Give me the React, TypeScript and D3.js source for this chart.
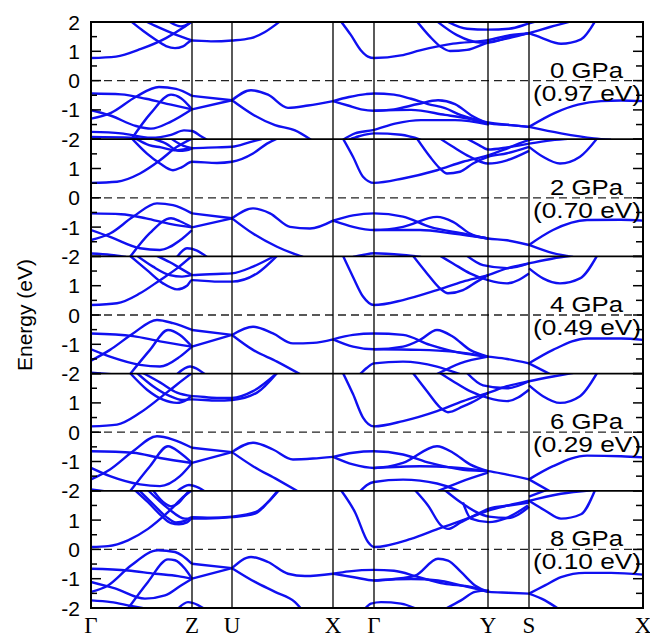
import React from "react";
import * as d3 from "d3";

type P = [number, number];

// k-path (distance units) of high-symmetry points
const kTicks = [0, 101, 141, 242, 283, 397, 438, 552];
const kLabels = ["Γ", "Z", "U", "X", "Γ", "Y", "S", "X"];
const pressureLabels = ["0 GPa", "2 GPa", "4 GPa", "6 GPa", "8 GPa"];
const gapLabels = ["(0.97 eV)", "(0.70 eV)", "(0.49 eV)", "(0.29 eV)", "(0.10 eV)"];
const yTicks = [-2, -1, 0, 1, 2];
const yMinor = [-1.5, -0.5, 0.5, 1.5];

// ---------- 0 GPa ----------
const cond0: P[][] = [
  [[0, 0.77], [25, 0.82], [50, 1.08], [75, 1.45], [92, 1.8], [101, 2.02]],
  [[40, 2.02], [52, 1.7], [64, 1.41], [75, 1.18], [84, 1.11], [92, 1.17], [101, 1.37], [120, 1.34], [141, 1.37], [160, 1.45], [174, 1.66], [189, 2.02]],
  [[55, 2.02], [70, 1.78], [86, 1.55], [101, 1.37]],
  [[78, 2.02], [90, 1.85], [101, 2.02]],
  [[250, 2.02], [260, 1.55], [270, 1.03], [277, 0.82], [283, 0.77], [310, 0.86], [329, 1.03], [362, 1.26], [397, 1.38], [419, 1.55], [438, 1.62], [459, 1.83], [480, 2.02]],
  [[326, 2.02], [339, 1.5], [350, 1.15], [359, 1.01], [376, 1.05], [397, 1.3], [418, 1.45], [438, 1.62]],
  [[346, 2.02], [366, 1.55], [389, 1.3], [397, 1.3], [418, 1.48], [438, 1.62]],
  [[356, 2.02], [376, 1.77], [397, 1.74], [418, 1.77], [438, 1.95], [445, 2.02]],
  [[438, 1.62], [450, 1.47], [470, 1.26], [490, 1.41], [504, 2.02]],
];
const val0: P[][] = [
  [[0, -1.3], [20, -1.1], [45, -0.55], [68, -0.22], [85, -0.28], [101, -0.52]],
  [[0, -0.44], [30, -0.47], [55, -0.62], [80, -0.82], [101, -0.98]],
  [[40, -2.02], [60, -1.1], [80, -0.48], [90, -0.6], [101, -0.98]],
  [[0, -1.01], [20, -1.2], [45, -1.55], [60, -1.64], [80, -1.4], [101, -0.98]],
  [[0, -1.75], [30, -1.8], [60, -1.95], [80, -1.85], [93, -1.7], [101, -1.72], [110, -1.9], [116, -2.02]],
  [[0, -1.92], [40, -1.95], [60, -2.02]],
  [[101, -0.52], [141, -0.67]],
  [[101, -0.98], [141, -0.67]],
  [[141, -0.67], [160, -0.33], [177, -0.48], [197, -0.93], [217, -0.85], [242, -0.7]],
  [[141, -0.67], [163, -1.18], [184, -1.52], [204, -1.7], [220, -2.02]],
  [[242, -0.7], [258, -0.56], [275, -0.46], [283, -0.44], [303, -0.48], [320, -0.62], [337, -0.8], [354, -0.94], [370, -1.18], [387, -1.35], [397, -1.43], [420, -1.52], [438, -1.58]],
  [[242, -0.7], [257, -0.85], [270, -0.98], [283, -1.03], [303, -0.98], [327, -0.8], [347, -0.67], [364, -0.8], [380, -1.18], [397, -1.46]],
  [[283, -1.03], [320, -1.0], [354, -1.17], [377, -1.3], [397, -1.46], [420, -1.52], [438, -1.58]],
  [[252, -2.02], [264, -1.8], [282, -1.69], [304, -1.47], [330, -1.35], [364, -1.35], [398, -1.5]],
  [[258, -2.02], [268, -1.9], [283, -1.8], [310, -1.85], [330, -2.02]],
  [[438, -1.58], [464, -1.1], [487, -0.82], [510, -0.7], [530, -0.68], [552, -0.7]],
  [[438, -1.58], [470, -1.8], [503, -1.97], [520, -2.02]],
];

// ---------- 2 GPa ----------
const cond2: P[][] = [
  [[0, 0.51], [26, 0.55], [49, 0.83], [69, 1.28], [86, 1.74], [101, 2.02]],
  [[41, 2.02], [56, 1.51], [69, 1.17], [82, 0.94], [91, 1.05], [101, 1.23], [126, 1.19], [141, 1.23], [162, 1.51], [176, 1.85], [186, 2.02]],
  [[45, 2.02], [58, 1.8], [70, 1.72], [85, 1.62], [101, 1.69], [126, 1.72], [141, 1.74], [159, 1.9], [172, 2.02]],
  [[62, 2.02], [75, 1.85], [88, 1.6], [95, 1.62], [101, 1.69]],
  [[80, 2.02], [92, 1.78], [101, 1.69]],
  [[252, 2.02], [262, 1.4], [272, 0.72], [283, 0.51], [312, 0.66], [346, 0.94], [372, 1.23], [397, 1.45], [416, 1.68], [438, 1.97], [445, 2.02]],
  [[326, 2.02], [339, 1.4], [349, 1.0], [356, 0.83], [369, 0.89], [382, 1.17], [397, 1.4], [416, 1.52], [438, 1.74]],
  [[349, 2.02], [362, 1.74], [379, 1.4], [397, 1.17], [416, 1.28], [438, 1.6]],
  [[376, 2.02], [388, 1.8], [397, 1.65], [416, 1.72], [438, 1.85]],
  [[438, 1.74], [452, 1.4], [469, 1.17], [489, 1.4], [506, 2.02]],
  [[438, 1.85], [460, 1.96], [480, 2.02]],
];
const val2: P[][] = [
  [[0, -1.44], [19, -1.22], [42, -0.65], [66, -0.19], [82, -0.25], [101, -0.53]],
  [[0, -0.53], [30, -0.56], [55, -0.7], [80, -0.9], [101, -1.01]],
  [[39, -2.02], [59, -1.2], [80, -0.7], [89, -0.8], [101, -1.01]],
  [[0, -1.1], [19, -1.33], [49, -1.72], [69, -1.78], [89, -1.45], [101, -1.1]],
  [[0, -1.9], [20, -1.95], [35, -2.02]],
  [[86, -2.02], [96, -1.72], [106, -1.8], [116, -2.02]],
  [[101, -0.53], [141, -0.7]],
  [[101, -1.01], [141, -0.7]],
  [[141, -0.7], [162, -0.36], [179, -0.53], [199, -0.99], [219, -1.05], [242, -0.78]],
  [[141, -0.7], [162, -1.22], [186, -1.67], [202, -1.9], [212, -2.02]],
  [[242, -0.78], [262, -0.6], [283, -0.53], [312, -0.64], [339, -0.99], [372, -1.22], [397, -1.39], [416, -1.45], [438, -1.61]],
  [[242, -0.78], [262, -0.99], [283, -1.1], [312, -0.99], [346, -0.65], [362, -0.82], [379, -1.22], [397, -1.39]],
  [[283, -1.1], [329, -1.1], [362, -1.22], [397, -1.39]],
  [[262, -2.02], [272, -1.95], [283, -1.89], [312, -1.95], [330, -2.02]],
  [[438, -1.61], [462, -1.1], [496, -0.76], [530, -0.75], [552, -0.78]],
  [[438, -1.61], [462, -1.89], [482, -2.02]],
];

// ---------- 4 GPa ----------
const cond4: P[][] = [
  [[0, 0.34], [26, 0.4], [49, 0.74], [69, 1.19], [86, 1.59], [101, 2.02]],
  [[39, 2.02], [56, 1.53], [72, 1.08], [86, 0.875], [96, 1.0], [101, 1.19], [126, 1.14], [141, 1.14], [166, 1.42], [186, 2.02]],
  [[46, 2.02], [62, 1.65], [79, 1.36], [91, 1.31], [101, 1.36], [126, 1.4], [141, 1.42], [162, 1.65], [184, 2.02]],
  [[66, 2.02], [79, 1.8], [89, 1.6], [101, 1.36]],
  [[252, 2.02], [262, 1.3], [272, 0.63], [283, 0.34], [312, 0.51], [346, 0.85], [372, 1.14], [397, 1.36], [416, 1.59], [438, 1.76], [462, 1.93], [480, 2.02]],
  [[322, 2.02], [336, 1.42], [349, 0.91], [357, 0.74], [372, 0.85], [386, 1.14], [397, 1.36]],
  [[349, 2.02], [362, 1.76], [379, 1.42], [397, 1.19], [416, 1.08], [438, 1.42]],
  [[438, 1.59], [452, 1.25], [469, 1.08], [489, 1.25], [506, 2.02]],
  [[376, 2.02], [392, 1.7], [416, 1.6], [438, 1.76]],
];
const val4: P[][] = [
  [[0, -1.56], [19, -1.19], [42, -0.63], [66, -0.17], [82, -0.28], [101, -0.51]],
  [[0, -0.63], [42, -0.72], [69, -0.9], [101, -1.08]],
  [[39, -2.02], [59, -1.19], [77, -0.51], [89, -0.68], [101, -1.08]],
  [[0, -1.17], [19, -1.42], [49, -1.7], [69, -1.76], [89, -1.42], [101, -1.08]],
  [[0, -1.97], [20, -2.02]],
  [[86, -2.02], [99, -1.76], [109, -1.9], [114, -2.02]],
  [[101, -0.51], [141, -0.68]],
  [[101, -1.08], [141, -0.68]],
  [[141, -0.68], [162, -0.4], [182, -0.63], [202, -0.97], [222, -0.95], [242, -0.83]],
  [[141, -0.68], [162, -1.19], [186, -1.59], [209, -2.02]],
  [[242, -0.83], [262, -0.68], [283, -0.63], [312, -0.68], [339, -1.02], [372, -1.31], [397, -1.42], [416, -1.5], [438, -1.65]],
  [[242, -0.83], [262, -1.08], [283, -1.17], [312, -1.08], [329, -0.85], [346, -0.51], [362, -0.74], [379, -1.19], [397, -1.42]],
  [[283, -1.17], [329, -1.19], [362, -1.25], [397, -1.42]],
  [[269, -2.02], [276, -1.8], [283, -1.65], [312, -1.59], [346, -1.76], [369, -2.02]],
  [[346, -2.02], [369, -1.65], [397, -1.42]],
  [[438, -1.65], [462, -1.19], [496, -0.8], [530, -0.8], [552, -0.85]],
  [[438, -1.65], [459, -2.02]],
];

// ---------- 6 GPa ----------
const cond6: P[][] = [
  [[0, 0.2], [26, 0.26], [49, 0.66], [69, 1.17], [86, 1.63], [101, 2.02]],
  [[39, 2.02], [56, 1.45], [72, 1.11], [86, 1.0], [96, 1.11], [101, 1.23], [126, 1.17], [141, 1.17], [162, 1.4], [186, 2.02]],
  [[46, 2.02], [62, 1.57], [79, 1.23], [91, 1.1], [101, 1.12], [126, 1.08], [141, 1.1], [166, 1.35], [186, 2.02]],
  [[52, 2.02], [69, 1.7], [86, 1.35], [101, 1.23]],
  [[252, 2.02], [262, 1.3], [272, 0.5], [283, 0.2], [312, 0.38], [346, 0.72], [372, 1.06], [397, 1.34], [416, 1.57], [438, 1.74], [462, 1.9], [482, 2.02]],
  [[322, 2.02], [336, 1.4], [349, 0.85], [357, 0.68], [372, 0.88], [386, 1.11], [397, 1.34]],
  [[349, 2.02], [362, 1.74], [379, 1.4], [397, 1.17], [416, 1.06], [438, 1.45]],
  [[438, 1.6], [452, 1.23], [469, 1.0], [489, 1.23], [506, 2.02]],
  [[376, 2.02], [392, 1.6], [416, 1.5], [438, 1.74]],
];
const val6: P[][] = [
  [[0, -1.61], [19, -1.27], [42, -0.65], [66, -0.14], [82, -0.25], [101, -0.53]],
  [[0, -0.65], [42, -0.7], [69, -0.88], [101, -1.05]],
  [[39, -2.02], [59, -1.16], [77, -0.48], [89, -0.7], [101, -1.05]],
  [[0, -1.22], [19, -1.5], [49, -1.78], [69, -1.84], [89, -1.5], [101, -1.05]],
  [[0, -1.95], [15, -2.02]],
  [[86, -2.02], [98, -1.8], [108, -1.9], [114, -2.02]],
  [[101, -0.53], [141, -0.68]],
  [[101, -1.05], [141, -0.68]],
  [[141, -0.68], [162, -0.36], [182, -0.59], [202, -0.93], [222, -0.9], [242, -0.84]],
  [[141, -0.68], [162, -1.16], [186, -1.61], [207, -2.02]],
  [[242, -0.84], [262, -0.7], [283, -0.65], [312, -0.76], [339, -1.05], [372, -1.28], [397, -1.33], [416, -1.45], [438, -1.61]],
  [[242, -0.84], [262, -1.1], [283, -1.22], [312, -1.05], [346, -0.48], [362, -0.7], [379, -1.1], [397, -1.33]],
  [[283, -1.22], [329, -1.16], [362, -1.2], [397, -1.33]],
  [[269, -2.02], [276, -1.8], [283, -1.7], [312, -1.62], [346, -1.75], [369, -2.02]],
  [[346, -2.02], [369, -1.7], [397, -1.38]],
  [[438, -1.61], [462, -1.16], [496, -0.8], [530, -0.82], [552, -0.86]],
  [[438, -1.61], [459, -2.02]],
];

// ---------- 8 GPa ----------
const cond8: P[][] = [
  [[0, 0.08], [17, 0.11], [37, 0.31], [57, 0.7], [77, 1.27], [94, 1.84], [101, 2.02]],
  [[44, 2.02], [57, 1.61], [70, 1.16], [80, 0.9], [88, 0.86], [96, 0.92], [101, 1.05], [115, 1.05], [141, 1.1], [164, 1.22], [177, 1.61], [188, 2.02]],
  [[48, 2.02], [62, 1.55], [75, 1.12], [85, 0.92], [94, 0.97], [101, 1.1], [120, 1.08], [141, 1.12], [165, 1.28], [178, 1.65], [187, 2.02]],
  [[57, 2.02], [77, 1.4], [94, 1.05], [101, 1.05]],
  [[62, 2.02], [72, 1.62], [80, 1.47], [88, 1.6], [95, 1.88], [99, 2.02]],
  [[250, 2.02], [264, 1.27], [277, 0.25], [283, 0.08], [320, 0.36], [347, 0.7], [380, 1.1], [398, 1.33], [417, 1.5], [438, 1.66], [470, 1.9], [500, 2.02]],
  [[324, 2.02], [337, 1.5], [350, 0.82], [357, 0.7], [370, 0.93], [384, 1.17], [398, 1.39], [418, 1.5], [438, 1.6]],
  [[354, 2.02], [370, 1.6], [384, 1.3], [398, 1.12], [417, 1.07], [438, 1.45]],
  [[372, 1.6], [380, 1.05], [398, 0.93], [414, 1.05], [437, 1.5]],
  [[438, 1.66], [454, 1.33], [470, 1.05], [490, 1.2], [504, 2.02]],
  [[438, 1.8], [455, 2.02]],
];
const val8: P[][] = [
  [[0, -1.45], [17, -1.23], [40, -0.55], [67, -0.03], [84, -0.09], [101, -0.49]],
  [[0, -0.66], [37, -0.72], [64, -0.83], [87, -0.91], [101, -1.0]],
  [[37, -2.02], [57, -1.11], [77, -0.34], [84, -0.37], [94, -0.66], [101, -1.0]],
  [[0, -1.11], [24, -1.33], [54, -1.68], [74, -1.57], [90, -1.23], [101, -1.0]],
  [[0, -1.74], [20, -1.8], [40, -1.93], [55, -2.02]],
  [[87, -2.02], [97, -1.8], [107, -1.9], [113, -2.02]],
  [[101, -0.49], [141, -0.64]],
  [[101, -1.0], [141, -0.64]],
  [[141, -0.64], [160, -0.26], [177, -0.43], [197, -0.83], [214, -0.91], [242, -0.83]],
  [[141, -0.64], [164, -1.11], [184, -1.45], [204, -1.8], [210, -2.02]],
  [[242, -0.83], [258, -0.75], [283, -0.7], [303, -0.73], [327, -0.94], [353, -1.17], [380, -1.28], [398, -1.45], [417, -1.48], [438, -1.51]],
  [[242, -0.83], [263, -0.95], [283, -1.06], [303, -1.01], [324, -0.9], [347, -0.32], [357, -0.38], [370, -0.77], [384, -1.23], [398, -1.45]],
  [[283, -1.06], [320, -1.01], [347, -1.06], [370, -1.23], [398, -1.45]],
  [[274, -2.02], [280, -1.85], [290, -1.8], [310, -1.85], [325, -2.02]],
  [[355, -2.02], [370, -1.74], [384, -1.45], [398, -1.4]],
  [[438, -1.51], [454, -1.23], [470, -0.95], [494, -0.8], [520, -0.8], [552, -0.86]],
  [[438, -1.51], [454, -1.74], [467, -2.02]],
];

const condSets = [cond0, cond2, cond4, cond6, cond8];
const valSets = [val0, val2, val4, val6, val8];

const W = 650;
const H = 638;
const left = 91;
const right = 643;
const top = 22;
const bottom = 608;
const nPanels = 5;
const panelH = (bottom - top) / nPanels;
const blue = "#1010f0";

export default function App() {
  const x = d3.scaleLinear().domain([0, 552]).range([left, right]);
  const panels = d3.range(nPanels).map((i) => {
    const y = d3
      .scaleLinear()
      .domain([-2, 2])
      .range([top + panelH * (i + 1), top + panelH * i]);
    return { i, y };
  });

  return (
    <svg
      width={W}
      height={H}
      style={{ position: "absolute", left: 0, top: 0, background: "#fff" }}
      fontFamily="'Liberation Sans', Arial, sans-serif"
    >
      <defs>
        {panels.map(({ i, y }) => (
          <clipPath id={`clip${i}`} key={i}>
            <rect x={left} y={y(2)} width={right - left} height={y(-2) - y(2)} />
          </clipPath>
        ))}
      </defs>

      {panels.map(({ i, y }) => {
        const line = d3
          .line<P>()
          .x((d) => x(d[0]))
          .y((d) => y(d[1]))
          .curve(d3.curveMonotoneX);
        const all = [...condSets[i], ...valSets[i]];
        return (
          <g key={i}>
            <line x1={left} x2={right} y1={y(0)} y2={y(0)} stroke="#222" strokeWidth={1.3} strokeDasharray="8,5" />
            <g clipPath={`url(#clip${i})`}>
              {all.map((b, j) => (
                <path key={j} d={line(b) || ""} fill="none" stroke={blue} strokeWidth={2.4} strokeLinejoin="round" />
              ))}
            </g>
            {yTicks.map((t) => (
              <g key={"t" + t}>
                <line x1={left} x2={left + 10} y1={y(t)} y2={y(t)} stroke="#000" strokeWidth={1.5} />
                <line x1={right - 10} x2={right} y1={y(t)} y2={y(t)} stroke="#000" strokeWidth={1.5} />
              </g>
            ))}
            {yMinor.map((t) => (
              <g key={"m" + t}>
                <line x1={left} x2={left + 6} y1={y(t)} y2={y(t)} stroke="#000" strokeWidth={1.5} />
                <line x1={right - 7} x2={right} y1={y(t)} y2={y(t)} stroke="#000" strokeWidth={1.5} />
              </g>
            ))}
            {yTicks
              .filter((t) => t < 2 || i === 0)
              .map((t) => (
                <text key={"l" + t} x={80} y={y(t) + 7.5} textAnchor="end" fontSize={21} fill="#000">
                  {t < 0 ? "-" + Math.abs(t) : String(t)}
                </text>
              ))}
            <text x={550} y={y(0) - 3} fontSize={22} fill="#000" textLength={73} lengthAdjust="spacingAndGlyphs">
              {pressureLabels[i]}
            </text>
            <text x={533} y={y(0) + 20} fontSize={22} fill="#000" textLength={108} lengthAdjust="spacingAndGlyphs">
              {gapLabels[i]}
            </text>
            {i > 0 && <line x1={left} x2={right} y1={y(2)} y2={y(2)} stroke="#000" strokeWidth={1.8} />}
          </g>
        );
      })}

      {kTicks.slice(1, -1).map((k, j) => (
        <line key={j} x1={x(k)} x2={x(k)} y1={top} y2={bottom} stroke="#000" strokeWidth={1.3} />
      ))}
      <rect x={left} y={top} width={right - left} height={bottom - top} fill="none" stroke="#000" strokeWidth={2} />

      {kTicks.map((k, j) => (
        <text
          key={j}
          x={x(k)}
          y={632.5}
          textAnchor="middle"
          fontSize={23}
          fontFamily="'Liberation Serif', 'Times New Roman', serif"
          fill="#000"
        >
          {kLabels[j]}
        </text>
      ))}

      <text
        transform={`translate(32, ${(top + bottom) / 2}) rotate(-90)`}
        textAnchor="middle"
        fontSize={21}
        fill="#000"
      >
        Energy (eV)
      </text>
    </svg>
  );
}
